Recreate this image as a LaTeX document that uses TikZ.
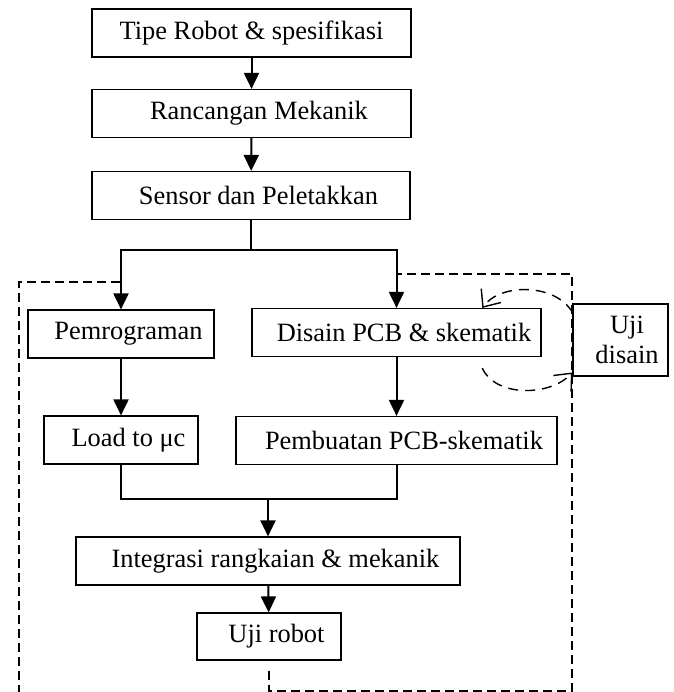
\documentclass[tikz,border=0pt]{standalone}
\usepackage{fontspec}
\setmainfont{Liberation Serif}
\usepackage{tikz}
\usetikzlibrary{arrows.meta}
\tikzset{
  rbstep/.style={
    draw,
    line width=0.6pt,
    inner sep=0pt,
    minimum height=24pt
  },
  rbpad/.style={rbstep,execute at begin node=\hspace*{7.5pt}},
  rbline/.style={line width=1pt},
  rbflow/.style={-{Triangle[length=8pt,width=7.5pt]},line width=1pt},
  rbframe/.style={line width=1pt,dash pattern=on 4.5pt off 2.5pt},
  rbloop/.style={-{Straight Barb[length=7pt,width=12pt,line width=0.7pt]},
                 line width=0.7pt,dash pattern=on 5pt off 3.5pt}
}

\begin{document}
\begin{tikzpicture}[x=0.5pt,y=-0.5pt,font=\fontsize{13.2pt}{15pt}\selectfont]
  \useasboundingbox (0,0) rectangle (674,692);

  \node[rbstep,minimum width=159.5pt] (tipe) at (251.5,33) {Tipe Robot \& spesifikasi};
  \node[rbpad,minimum width=159.5pt] (mek) at (251.5,113.5) {Rancangan Mekanik};
  \node[rbpad,minimum width=159pt] (sensor) at (251,195.5) {Sensor dan Peletakkan};
  \node[rbpad,minimum width=93pt] (prog) at (121,334) {Pemrograman};
  \node[rbpad,minimum width=144.5pt] (pcb) at (396.5,332.5) {Disain PCB \& skematik};
  \node[rbpad,minimum width=77pt] (load) at (121,440) {Load to μc};
  \node[rbpad,minimum width=160.5pt] (buat) at (396.5,440.5) {Pembuatan PCB-skematik};
  \node[rbpad,minimum width=192pt] (integ) at (268,561) {Integrasi rangkaian \& mekanik};
  \node[rbpad,minimum width=72pt,minimum height=23.5pt] (robot) at (269,636.5) {Uji robot};
  \node[rbstep,minimum width=47.5pt,minimum height=36pt,align=center] (ujid) at (620.5,340)
    {\hspace*{6.5pt}Uji\\\hspace*{6.5pt}disain};

  \draw[rbflow] (tipe) -- (mek);
  \draw[rbflow] (mek) -- (sensor);
  \path (sensor.south) ++(0,30) coordinate (split);
  \draw[rbline] (sensor.south) -- (split);
  \draw[rbflow] (split) -| (prog.north);
  \draw[rbflow] (split) -| (pcb.north);
  \draw[rbflow] (prog) -- (load);
  \draw[rbflow] (pcb) -- (buat);
  \path (integ.north) ++(0,-37) coordinate (merge);
  \draw[rbline] (load.south) |- (merge) -| (buat.south);
  \draw[rbflow] (merge) -- (integ.north);
  \draw[rbflow] (integ) -- (robot);

  \draw[rbframe] (120,282) -- (19,282) -- (19,692);
  \draw[rbframe] (robot.south) ++(0,10) -- ++(0,20) -| (572,274) -- (398,274);

  \draw[rbloop] (ujid.150) .. controls (555,283) and (500,283) .. (pcb.16);
  \draw[rbloop] ([yshift=-5.5pt]pcb.-16) .. controls (495,397) and (550,397) .. (ujid.214);
\end{tikzpicture}
\end{document}
